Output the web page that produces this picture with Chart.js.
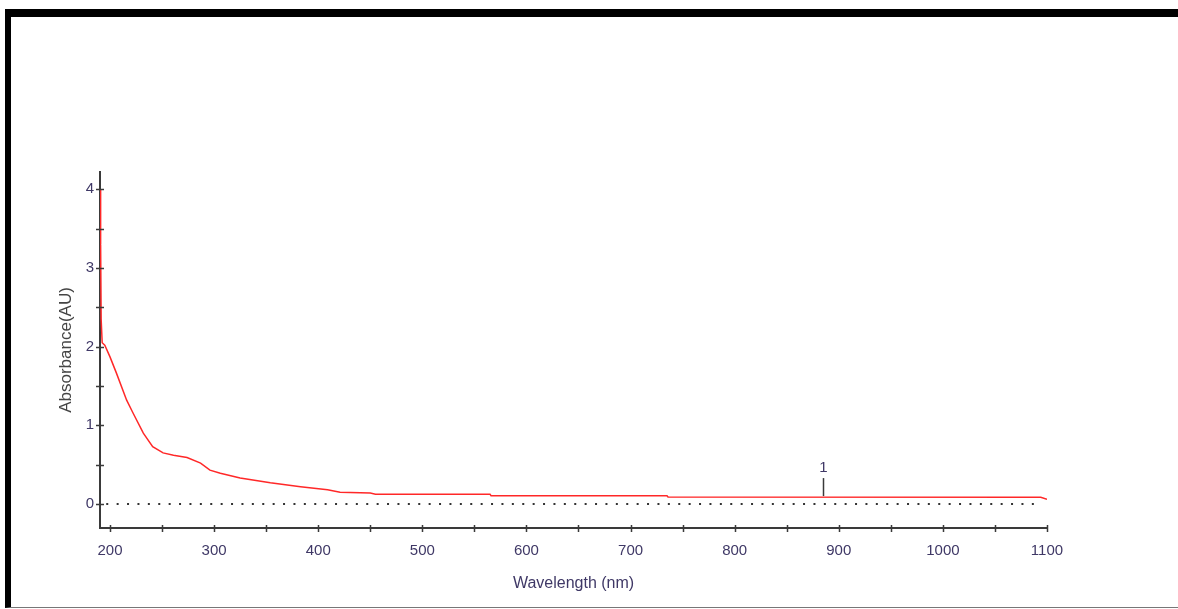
<!DOCTYPE html>
<html>
<head>
<meta charset="utf-8">
<script src="https://cdn.jsdelivr.net/npm/chart.js@4.4.0/dist/chart.umd.min.js"></script>
<style>
  html, body { margin: 0; padding: 0; background: #fff; }
  #wrap { position: relative; width: 1178px; height: 609px; overflow: hidden; }
  #frame {
    position: absolute; left: 5px; top: 9px; width: 1173px; height: 599px;
    border-top: 8px solid #000; border-left: 6px solid #000; border-bottom: 1px solid #777;
    box-sizing: border-box;
  }
  canvas { position: absolute; left: 0; top: 0; }
</style>
</head>
<body>
<div id="wrap">
  <div id="frame"></div>
  <canvas id="spectrum" width="1178" height="609"></canvas>
</div>
<script>
// spectrum
const wavelengths = [190.4, 191.0, 191.5, 192.5, 195, 200, 206, 216, 222, 232, 241, 251, 261, 274, 287, 296, 306, 325, 354, 383, 409, 421, 450, 455, 565, 566, 735, 736, 1094, 1100];
const absorbance = [4.0, 3.3, 2.35, 2.05, 2.02, 1.87, 1.67, 1.32, 1.16, 0.90, 0.73, 0.65, 0.62, 0.59, 0.52, 0.43, 0.39, 0.33, 0.27, 0.22, 0.18, 0.15, 0.14, 0.125, 0.125, 0.105, 0.105, 0.088, 0.085, 0.06];

const xTickLabels = [200, 300, 400, 500, 600, 700, 800, 900, 1000, 1100];
const xTickMarks = [200, 250, 300, 350, 400, 450, 500, 550, 600, 650, 700, 750, 800, 850, 900, 950, 1000, 1050, 1100];
const yTickLabels = [0, 1, 2, 3, 4];
const yTickMarks = [0, 0.5, 1, 1.5, 2, 2.5, 3, 3.5, 4];

const peakWavelengths = [885];
const peakAbsorbance = [0.088];
const peakLabels = ['1'];

const xMin = 190.4, xMax = 1100;
const yMin = -0.305, yMax = 4.22;

const textColor = '#3f3866';
const axisColor = '#3a3a3a';
Chart.defaults.font.family = "'Liberation Sans', Arial, sans-serif";
Chart.defaults.font.size = 15;

const spectrumData = wavelengths.map((w, i) => ({x: w, y: absorbance[i]}));
const baselineData = [{x: xMin + 6, y: 0}, {x: xMax - 5, y: 0}];

// tick marks crossing the axes, and the peak markers
const axisDecor = {
    id: 'axisDecor',
    afterDraw(chart) {
        const ctx = chart.ctx;
        const xs = chart.scales.x;
        const ys = chart.scales.y;
        const area = chart.chartArea;
        ctx.save();
        ctx.strokeStyle = axisColor;
        ctx.lineWidth = 1.5;
        ctx.beginPath();
        for (let v of xTickMarks) {
            const px = Math.round(xs.getPixelForValue(v)) + 0.5;
            ctx.moveTo(px, area.bottom - 3);
            ctx.lineTo(px, area.bottom + 4);
        }
        for (let v of yTickMarks) {
            const py = Math.round(ys.getPixelForValue(v)) + 0.5;
            ctx.moveTo(area.left - 4, py);
            ctx.lineTo(area.left + 4, py);
        }
        ctx.stroke();

        ctx.fillStyle = textColor;
        ctx.font = "15px 'Liberation Sans', Arial, sans-serif";
        ctx.textAlign = 'center';
        ctx.textBaseline = 'middle';
        for (let i = 0; i < peakWavelengths.length; i++) {
            const px = Math.round(xs.getPixelForValue(peakWavelengths[i])) + 0.5;
            const py = ys.getPixelForValue(peakAbsorbance[i]);
            ctx.beginPath();
            ctx.moveTo(px, py - 1);
            ctx.lineTo(px, py - 19);
            ctx.stroke();
            ctx.fillText(peakLabels[i], px, py - 29);
        }
        ctx.restore();
    }
};

const ctx = document.getElementById('spectrum').getContext('2d');
const spectrumChart = new Chart(ctx, {
    type: 'line',
    data: {
        datasets: [
            {
                label: 'baseline',
                data: baselineData,
                borderColor: '#333',
                borderWidth: 2,
                borderDash: [2, 8.4],
                pointRadius: 0,
                order: 2
            },
            {
                label: 'Absorbance',
                data: spectrumData,
                borderColor: 'rgb(255, 40, 40)',
                borderWidth: 1.5,
                pointRadius: 0,
                tension: 0,
                order: 1
            }
        ]
    },
    options: {
        responsive: false,
        animation: false,
        layout: {
            padding: {left: 48, top: 172, right: 131, bottom: 11}
        },
        plugins: {
            legend: {display: false},
            tooltip: {enabled: false}
        },
        scales: {
            x: {
                type: 'linear',
                min: xMin,
                max: xMax,
                afterBuildTicks: scale => { scale.ticks = xTickLabels.map(v => ({value: v})); },
                afterFit: scale => { scale.height = 70; },
                grid: {display: false, drawTicks: false},
                border: {display: true, color: axisColor, width: 2},
                ticks: {color: textColor, padding: 14, maxRotation: 0, autoSkip: false, callback: v => String(v)},
                title: {
                    display: true,
                    text: 'Wavelength (nm)',
                    color: textColor,
                    font: {size: 16},
                    padding: {top: 0, bottom: 5}
                }
            },
            y: {
                type: 'linear',
                min: yMin,
                max: yMax,
                afterBuildTicks: scale => { scale.ticks = yTickLabels.map(v => ({value: v})); },
                afterFit: scale => { scale.width = 52; },
                grid: {display: false, drawTicks: false},
                border: {display: true, color: axisColor, width: 2},
                ticks: {color: textColor, padding: 6, callback: v => String(v)},
                title: {
                    display: true,
                    text: 'Absorbance(AU)',
                    color: '#444',
                    font: {size: 17},
                    padding: {top: 8, bottom: 0}
                }
            }
        }
    },
    plugins: [axisDecor]
});
</script>
</body>
</html>
